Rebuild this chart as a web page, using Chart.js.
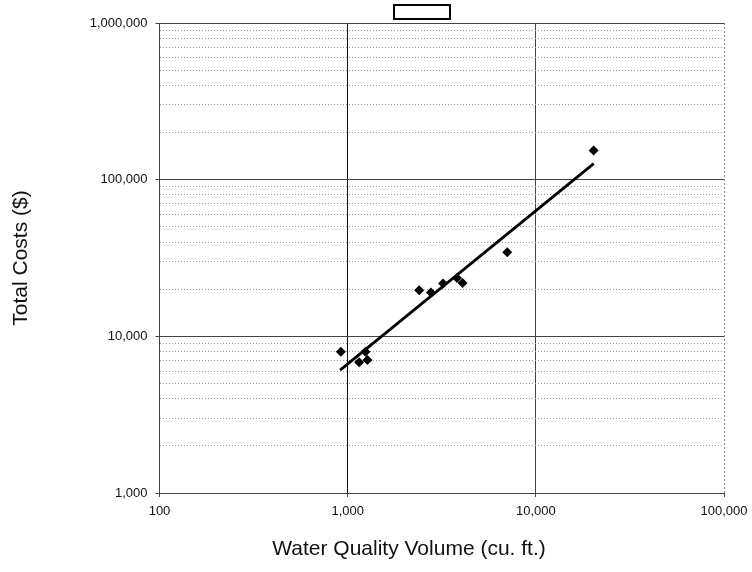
<!DOCTYPE html>
<html>
<head>
<meta charset="utf-8">
<script src="https://cdn.jsdelivr.net/npm/chart.js@4.4.1/dist/chart.umd.min.js"></script>
<style>
  html, body { margin: 0; padding: 0; background: #fff; }
  #wrap { width: 752px; height: 572px; }
</style>
</head>
<body>
<div id="wrap"><canvas id="costChart" width="752" height="572"></canvas></div>
<script>
// water quality volume (cu. ft.) and total cost ($) for each site
const volume = [920, 1151, 1244, 1274, 2400, 2770, 3210, 3810, 4080, 7050, 20280]
const cost = [7980, 6840, 7980, 7050, 19700, 19050, 21770, 23550, 21860, 34400, 153500]

// power trend line, two ends
const trendVolume = [912, 20300]
const trendCost = [6080, 126700]

const xTicks = [100, 1000, 10000, 100000]
const xTickLabels = ['100', '1,000', '10,000', '100,000']
const yMajor = [1000, 10000, 100000, 1000000]
const yTickLabels = ['1,000', '10,000', '100,000', '1,000,000']
const xTitle = 'Water Quality Volume (cu. ft.)'

// minor y ticks 2..9 in every decade
let yTicks = []
for (let d = 0; d < yMajor.length - 1; d++) {
  for (let m = 1; m < 10; m++) yTicks.push(yMajor[d] * m)
}
yTicks.push(yMajor[yMajor.length - 1])

const font = "'Liberation Sans', Arial, sans-serif"

function isMajor(v) {
  return Math.abs(Math.log10(v) - Math.round(Math.log10(v))) < 1e-9
}

// empty legend frame at the top and the x title, which sits left of the plot centre
const extras = {
  id: 'extras',
  afterDraw(chart) {
    const c = chart.ctx
    c.save()
    c.strokeStyle = '#000'
    c.lineWidth = 2
    c.strokeRect(394, 5, 56, 14)
    c.fillStyle = '#111'
    c.font = '21px ' + font
    c.textAlign = 'center'
    c.textBaseline = 'alphabetic'
    c.fillText(xTitle, 409, 555)
    c.restore()
  }
}

const data = {
  datasets: [
    {
      label: 'Sites',
      data: volume.map((v, i) => ({x: v, y: cost[i]})),
      pointStyle: 'rectRot',
      pointRadius: 5,
      pointHoverRadius: 5,
      backgroundColor: '#000',
      borderColor: '#000',
      borderWidth: 0,
      showLine: false
    },
    {
      label: 'Trend',
      data: trendVolume.map((v, i) => ({x: v, y: trendCost[i]})),
      showLine: true,
      borderColor: '#000',
      borderWidth: 2.8,
      pointRadius: 0
    }
  ]
}

const config = {
  type: 'scatter',
  data: data,
  plugins: [extras],
  options: {
    responsive: false,
    animation: false,
    layout: { padding: { left: 0, right: 28, top: 23, bottom: 0 } },
    plugins: {
      legend: { display: false },
      tooltip: { enabled: false }
    },
    scales: {
      x: {
        type: 'logarithmic',
        min: 100,
        max: 100000,
        afterBuildTicks: function(s) { s.ticks = xTicks.map(v => ({value: v})) },
        afterFit: function(s) {
          s.height = 79
          s.paddingLeft = 0
          s.paddingRight = 0
        },
        ticks: {
          autoSkip: false,
          maxRotation: 0,
          padding: 7,
          color: '#111',
          font: { family: font, size: 13 },
          callback: function(v) {
            let i = xTicks.indexOf(v)
            return i >= 0 ? xTickLabels[i] : ''
          }
        },
        grid: {
          tickLength: 4,
          lineWidth: 1,
          color: function(ctx) {
            if (ctx.tick && ctx.tick.value === 100000) return '#888'
            if (ctx.tick && ctx.tick.value === 1000) return '#111'
            return '#444'
          },
          tickColor: '#444'
        },
        border: {
          display: true,
          color: '#444',
          dash: function(ctx) {
            if (ctx.tick && ctx.tick.value === 100000) return [2, 2]
            return []
          }
        },
        title: { display: false }
      },
      y: {
        type: 'logarithmic',
        min: 1000,
        max: 1000000,
        afterBuildTicks: function(s) { s.ticks = yTicks.map(v => ({value: v})) },
        afterFit: function(s) { s.width = 159.5 },
        ticks: {
          autoSkip: false,
          padding: 8,
          color: '#111',
          font: { family: font, size: 13 },
          callback: function(v) {
            let i = yMajor.indexOf(v)
            return i >= 0 ? yTickLabels[i] : ''
          }
        },
        grid: {
          tickLength: 4,
          lineWidth: 1,
          color: function(ctx) {
            if (ctx.tick && isMajor(ctx.tick.value)) return '#444'
            return '#999'
          },
          tickColor: function(ctx) {
            if (ctx.tick && isMajor(ctx.tick.value)) return '#444'
            return 'rgba(0,0,0,0)'
          }
        },
        border: {
          display: true,
          color: '#444',
          dash: function(ctx) {
            if (ctx.tick && !isMajor(ctx.tick.value)) return [1, 2]
            return []
          }
        },
        title: {
          display: true,
          text: 'Total Costs ($)',
          color: '#111',
          font: { family: font, size: 21 },
          padding: { top: 9, bottom: 0 }
        }
      }
    }
  }
}

const costChart = new Chart(document.getElementById('costChart'), config)
</script>
</body>
</html>
